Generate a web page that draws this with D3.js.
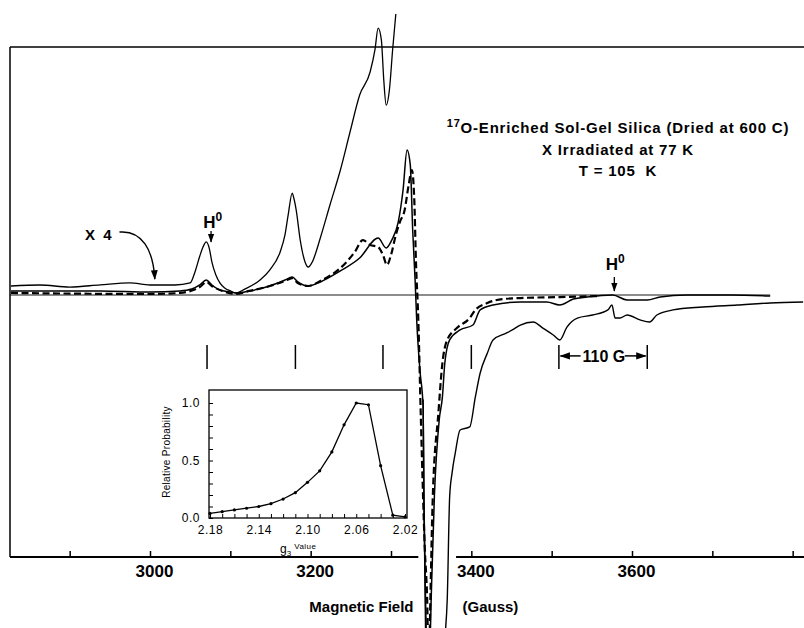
<!DOCTYPE html>
<html>
<head>
<meta charset="utf-8">
<script src="https://cdn.jsdelivr.net/npm/d3@7"></script>
<style>
  body { margin: 0; background: #fff; }
  svg { display: block; font-family: "Liberation Sans", Arial, sans-serif; font-weight: bold; }
  .pre { white-space: pre; }
</style>
</head>
<body>
<svg id="chart" width="804" height="628"></svg>
<script>
// EPR spectrum, field in Gauss, signal in units of the 1x peak height
var fieldTicks = d3.range(2900, 3801, 100);
var fieldLabels = [3000, 3200, 3400, 3600];

// x4 trace, left part (pen leaves the page at the top)
var x4Upper = [[2827,.062],[2863,.069],[2900,.055],[2938,.07],[2975,.083],[3000,.069],[3031,.069],[3050,.083],
  [3056,.159],[3062,.269],[3066,.331],[3070,.366],[3074,.317],[3077,.228],[3082,.138],[3087,.083],[3093,.048],
  [3100,.028],[3107,.014],[3118,.041],[3137,.103],[3149,.172],[3162,.297],[3168,.414],[3172,.552],[3177,.703],
  [3179,.669],[3182,.586],[3187,.379],[3193,.228],[3197,.193],[3202,.228],[3212,.393],[3224,.621],[3237,.862],
  [3249,1.124],[3261,1.379],[3274,1.538],[3280,1.69],[3284,1.841],[3288,1.759],[3291,1.483],[3294,1.31],
  [3298,1.414],[3302,1.69],[3306,1.938]];

// x4 trace, right part
var x4Lower = [[3340,-.72],[3341,-1.41],[3343,-2.3],[3352,-2.9],[3368,-2.3],[3370,-2.1],[3373,-1.393],
  [3376,-1.228],[3380,-1.09],[3386,-.931],[3398,-.91],[3405,-.703],[3411,-.538],[3420,-.4],[3427,-.31],
  [3444,-.262],[3451,-.241],[3461,-.207],[3477,-.186],[3489,-.228],[3502,-.276],[3510,-.31],
  [3519,-.221],[3532,-.159],[3551,-.138],[3570,-.103],[3575,-.069],[3579,-.159],[3585,-.159],[3594,-.138],
  [3610,-.172],[3622,-.186],[3631,-.138],[3651,-.103],[3688,-.083],[3731,-.069],[3772,-.055],[3813,-.048]];

// 1x trace, solid
var solid1x = [[2827,.028],[2938,.028],[3000,.021],[3037,.028],[3052,.041],[3062,.069],[3070,.103],[3077,.069],
  [3087,.034],[3100,.021],[3107,.014],[3124,.028],[3149,.062],[3168,.103],[3177,.124],[3184,.09],[3197,.062],
  [3212,.09],[3237,.166],[3261,.255],[3284,.393],[3294,.324],[3301,.379],[3309,.503],[3315,.724],[3320,1.0],
  [3324,.897],[3327,.448],[3330,.103],[3332,-.172],[3336,-.517],[3340,-.772],[3341,-1.41],[3343,-2.1],
  [3347,-2.7],[3350,-2.1],[3354,-1.39],[3360,-.862],[3364,-.703],[3367,-.469],[3373,-.31],[3386,-.241],
  [3402,-.207],[3411,-.103],[3427,-.069],[3461,-.048],[3494,-.048],[3510,-.069],[3527,-.028],[3544,-.014],
  [3576,0],[3594,-.034],[3619,-.034],[3635,-.014],[3668,0],[3722,0],[3772,-.007]];

// 1x trace, dashed
var dashed1x = [[2827,.014],[3000,.007],[3037,.014],[3062,.055],[3070,.09],[3077,.062],[3090,.028],[3107,.007],
  [3124,.028],[3149,.062],[3168,.097],[3177,.117],[3184,.083],[3197,.062],[3212,.097],[3237,.186],[3255,.297],
  [3265,.379],[3274,.345],[3284,.331],[3290,.276],[3295,.207],[3300,.276],[3306,.414],[3311,.503],[3317,.586],
  [3322,.759],[3326,.862],[3329,.655],[3331,.241],[3334,-.172],[3337,-.814],[3342,-1.738],[3345,-2.1],
  [3347,-2.6],[3349,-2.1],[3352,-1.393],[3359,-.814],[3364,-.469],[3370,-.31],[3382,-.228],[3398,-.159],
  [3405,-.103],[3420,-.055],[3439,-.028],[3461,-.021],[3510,-.014],[3560,-.007]];

// 17O hyperfine stick positions and the 110 G spacing
var hfLines = [3071, 3181, 3290, 3400];
var spacing = [3509, 3619];
var h0Fields = [3076, 3578];

// inset: g3 distribution
var g3 = [2.18,2.17,2.16,2.15,2.14,2.13,2.12,2.11,2.10,2.09,2.08,2.07,2.06,2.05,2.04,2.03,2.02];
var prob = [0.04,0.055,0.07,0.085,0.10,0.125,0.165,0.22,0.31,0.41,0.575,0.81,1.0,0.985,0.455,0.025,0.01];
var g3Labels = [2.18, 2.14, 2.10, 2.06, 2.02];

var svg = d3.select("#chart");

var x = d3.scaleLinear().domain([3000, 3600]).range([150, 632]);
var y = d3.scaleLinear().domain([0, 1]).range([295, 150]);

var frameLeft = 10, frameTop = 47, axisY = 557;

// frame
svg.append("line").attr("x1", frameLeft).attr("x2", 804).attr("y1", frameTop).attr("y2", frameTop)
  .attr("stroke", "#000").attr("stroke-width", 1.5);
svg.append("line").attr("x1", frameLeft).attr("x2", frameLeft).attr("y1", frameTop).attr("y2", axisY)
  .attr("stroke", "#000").attr("stroke-width", 1.5);

// zero line
svg.append("line").attr("x1", frameLeft).attr("x2", x(3772)).attr("y1", y(0)).attr("y2", y(0))
  .attr("stroke", "#000").attr("stroke-width", 0.9);

// field axis, broken where the traces run through it
[[frameLeft, x(3334)], [x(3381), 804]].forEach(function(s) {
  svg.append("line").attr("x1", s[0]).attr("x2", s[1]).attr("y1", axisY).attr("y2", axisY)
    .attr("stroke", "#000").attr("stroke-width", 2);
});
var xAxis = svg.append("g").attr("transform", "translate(0," + axisY + ")")
  .call(d3.axisBottom(x).tickValues(fieldTicks).tickSize(-6).tickPadding(8)
    .tickFormat(function(d) { return fieldLabels.indexOf(d) >= 0 ? d : ""; }));
xAxis.select(".domain").remove();
xAxis.selectAll("line").attr("stroke-width", 1.5);
xAxis.selectAll("text").attr("font-size", 17).attr("font-family", null).attr("font-weight", "bold")
  .attr("dx", 4);

svg.append("text").attr("x", x(3328)).attr("y", 612).attr("text-anchor", "end")
  .attr("font-size", 15).text("Magnetic Field");
svg.append("text").attr("x", x(3389)).attr("y", 612).attr("font-size", 15).text("(Gauss)");

// traces
var line = d3.line().x(function(d) { return x(d[0]); }).y(function(d) { return y(d[1]); })
  .curve(d3.curveMonotoneX);

svg.append("path").datum(x4Upper).attr("d", line).attr("fill", "none")
  .attr("stroke", "#000").attr("stroke-width", 1.3);
svg.append("path").datum(x4Lower).attr("d", line).attr("fill", "none")
  .attr("stroke", "#000").attr("stroke-width", 1.4);
svg.append("path").datum(solid1x).attr("d", line).attr("fill", "none")
  .attr("stroke", "#000").attr("stroke-width", 1.5);
svg.append("path").datum(dashed1x).attr("d", line).attr("fill", "none")
  .attr("stroke", "#000").attr("stroke-width", 2.2).attr("stroke-dasharray", "7,3.5");

// hyperfine sticks
svg.selectAll(".hf").data(hfLines).enter().append("line")
  .attr("x1", x).attr("x2", x).attr("y1", y(-0.345)).attr("y2", y(-0.51))
  .attr("stroke", "#000").attr("stroke-width", 1.5);
svg.selectAll(".sp").data(spacing).enter().append("line")
  .attr("x1", x).attr("x2", x).attr("y1", y(-0.345)).attr("y2", y(-0.51))
  .attr("stroke", "#000").attr("stroke-width", 1.5);

var defs = svg.append("defs");
defs.append("marker").attr("id", "head").attr("viewBox", "0 0 10 10").attr("refX", 9).attr("refY", 5)
  .attr("markerWidth", 7).attr("markerHeight", 7).attr("orient", "auto-start-reverse")
  .append("path").attr("d", "M0,1.5L10,5L0,8.5Z").attr("fill", "#000");

var arrowY = y(-0.42);
svg.append("line").attr("x1", x(3536)).attr("x2", x(3511)).attr("y1", arrowY).attr("y2", arrowY)
  .attr("stroke", "#000").attr("stroke-width", 1.5).attr("marker-end", "url(#head)");
svg.append("line").attr("x1", x(3591)).attr("x2", x(3617)).attr("y1", arrowY).attr("y2", arrowY)
  .attr("stroke", "#000").attr("stroke-width", 1.5).attr("marker-end", "url(#head)");
svg.append("text").attr("x", x(3565)).attr("y", arrowY + 6).attr("text-anchor", "middle")
  .attr("font-size", 16).text("110 G");

// H0 labels
var h0Text = [[h0Fields[0] + 2, 0.462, 0.441, 0.366], [h0Fields[1] + 1, 0.172, 0.124, 0.028]];
h0Text.forEach(function(h, i) {
  var t = svg.append("text").attr("x", x(h[0])).attr("y", y(h[1])).attr("text-anchor", "middle")
    .attr("font-size", 17);
  t.append("tspan").text("H");
  t.append("tspan").attr("font-size", 12).attr("dy", -7).text("0");
  svg.append("line").attr("x1", x(h0Fields[i])).attr("x2", x(h0Fields[i]))
    .attr("y1", y(h[2])).attr("y2", y(h[3]))
    .attr("stroke", "#000").attr("stroke-width", 1.3).attr("marker-end", "url(#head)");
});

// X 4 label and curved arrow
svg.append("text").attr("class", "pre").attr("x", x(2919)).attr("y", y(0.379))
  .attr("font-size", 15).text("X  4");
svg.append("path")
  .attr("d", "M" + x(2962) + "," + y(0.434) + "C" + x(2990) + "," + y(0.448) + " " + x(3004) + "," + y(0.31)
    + " " + x(3006) + "," + y(0.11))
  .attr("fill", "none").attr("stroke", "#000").attr("stroke-width", 1.4).attr("marker-end", "url(#head)");

// sample description
var title = svg.append("g").attr("font-size", 15).attr("text-anchor", "middle")
  .attr("letter-spacing", 0.8);
var t1 = title.append("text").attr("x", 618).attr("y", 133);
t1.append("tspan").attr("font-size", 11).attr("dy", -6).text("17");
t1.append("tspan").attr("dy", 6).text("O-Enriched Sol-Gel Silica (Dried at 600 C)");
title.append("text").attr("x", 618).attr("y", 155).text("X Irradiated at 77 K");
title.append("text").attr("class", "pre").attr("x", 618).attr("y", 176).text("T = 105  K");

// inset
var gx = d3.scaleLinear().domain([2.18, 2.02]).range([210, 405]);
var gy = d3.scaleLinear().domain([0, 1]).range([518, 403]);
var inset = svg.append("g");
inset.append("rect").attr("x", 209).attr("y", 390).attr("width", 198).attr("height", 128)
  .attr("fill", "#fff").attr("stroke", "#000").attr("stroke-width", 1.3);

var gyAxis = inset.append("g").attr("transform", "translate(209,0)")
  .call(d3.axisLeft(gy).tickValues(d3.range(0, 11).map(function(i) { return i / 10; }))
    .tickSize(-4).tickPadding(9)
    .tickFormat(function(d) { return [0, 5, 10].indexOf(Math.round(d * 10)) >= 0 ? d3.format(".1f")(d) : ""; }));
var gxAxis = inset.append("g").attr("transform", "translate(0,518)")
  .call(d3.axisBottom(gx).tickValues(g3).tickSize(-4).tickPadding(7)
    .tickFormat(function(d) { return g3Labels.some(function(l) { return Math.abs(l - d) < 1e-6; }) ? d3.format(".2f")(d) : ""; }));
[gyAxis, gxAxis].forEach(function(a) {
  a.select(".domain").remove();
  a.selectAll("line").attr("stroke-width", 1);
  a.selectAll("text").attr("font-size", 12).attr("font-family", null).attr("font-weight", "normal")
    .attr("letter-spacing", 0.5);
});

var pts = g3.map(function(g, i) { return [g, prob[i]]; });
inset.append("path").datum(pts)
  .attr("d", d3.line().x(function(d) { return gx(d[0]); }).y(function(d) { return gy(d[1]); }))
  .attr("fill", "none").attr("stroke", "#000").attr("stroke-width", 1.3);
inset.selectAll("circle").data(pts).enter().append("circle")
  .attr("cx", function(d) { return gx(d[0]); }).attr("cy", function(d) { return gy(d[1]); })
  .attr("r", 1.6).attr("fill", "#000");

inset.append("text").attr("transform", "translate(170,452) rotate(-90)").attr("text-anchor", "middle")
  .attr("font-size", 10).attr("font-weight", "normal").attr("letter-spacing", 0.3).text("Relative Probability");
var gl = inset.append("text").attr("x", 280).attr("y", 553).attr("font-size", 12).attr("font-weight", "normal");
gl.append("tspan").text("g");
gl.append("tspan").attr("font-size", 8).attr("dy", 3).text("3");
gl.append("tspan").attr("font-size", 8).attr("dy", -7).attr("dx", 3).attr("letter-spacing", 0.5).text("Value");
</script>
</body>
</html>
